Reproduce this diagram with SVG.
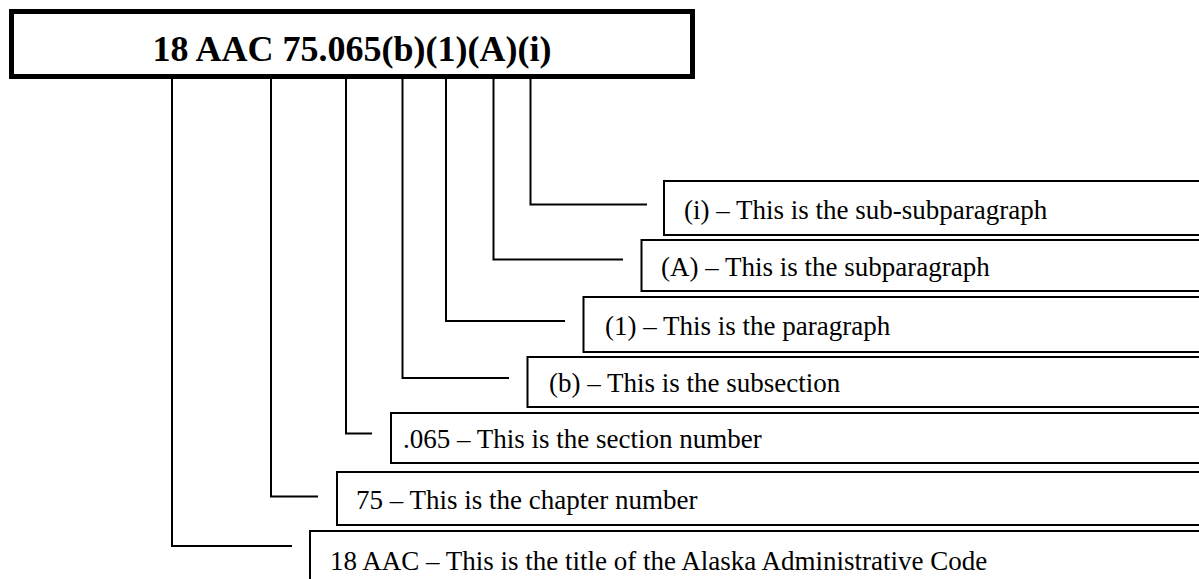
<svg xmlns="http://www.w3.org/2000/svg" width="1199" height="579" viewBox="0 0 1199 579">
<style>
.title{fill:#fff;stroke:#000;stroke-width:5}
.box{fill:#fff;stroke:#000;stroke-width:2}
.conn{fill:none;stroke:#000;stroke-width:2}
.tt{font-family:"Liberation Serif",serif;font-weight:bold;font-size:36px;fill:#000}
.lbl{font-family:"Liberation Serif",serif;font-size:27px;fill:#000}
</style>
<rect width="1199" height="579" fill="#fff"/>
<g id="title">
<rect class="title" x="11.5" y="11.5" width="681" height="65"/>
<text class="tt" x="352" y="61" text-anchor="middle">18 AAC 75.065(b)(1)(A)(i)</text>
</g>
<g id="connectors">
<path class="conn" d="M530.5 79 V204.5 H647"/>
<path class="conn" d="M493.5 79 V259.5 H623"/>
<path class="conn" d="M446 79 V321 H565"/>
<path class="conn" d="M402.5 79 V378 H509"/>
<path class="conn" d="M346 79 V433.5 H372"/>
<path class="conn" d="M271 79 V496.5 H318"/>
<path class="conn" d="M172 79 V546 H292"/>
</g>
<g id="n-i">
<rect class="box" x="664" y="181" width="560" height="54"/>
<text class="lbl" x="684" y="219">(i) – This is the sub-subparagraph</text>
</g>
<g id="n-A">
<rect class="box" x="641.5" y="240" width="580" height="51"/>
<text class="lbl" x="661" y="276">(A) – This is the subparagraph</text>
</g>
<g id="n-1">
<rect class="box" x="583.5" y="297" width="640" height="55"/>
<text class="lbl" x="605" y="335">(1) – This is the paragraph</text>
</g>
<g id="n-b">
<rect class="box" x="527.5" y="357" width="700" height="50"/>
<text class="lbl" x="549" y="392">(b) – This is the subsection</text>
</g>
<g id="n-065">
<rect class="box" x="391" y="413" width="830" height="50"/>
<text class="lbl" x="403" y="448">.065 – This is the section number</text>
</g>
<g id="n-75">
<rect class="box" x="337" y="472" width="880" height="53"/>
<text class="lbl" x="356" y="509">75 – This is the chapter number</text>
</g>
<g id="n-18">
<rect class="box" x="310" y="531" width="900" height="60"/>
<text class="lbl" x="330" y="570">18 AAC – This is the title of the Alaska Administrative Code</text>
</g>
</svg>
